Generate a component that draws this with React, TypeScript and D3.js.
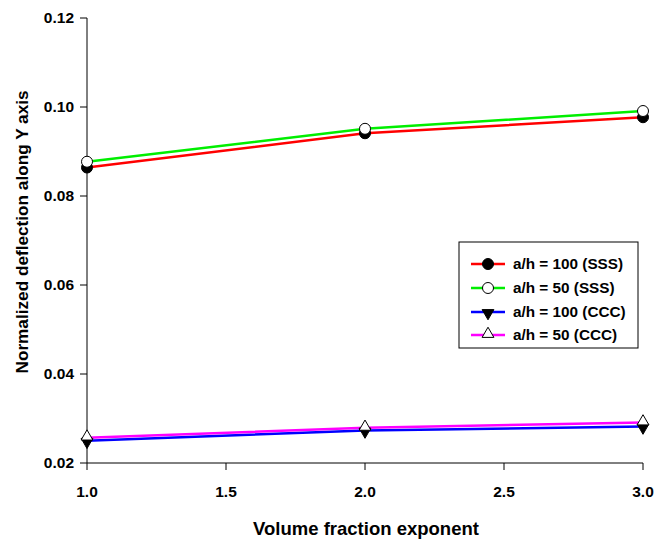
import React from "react";
import * as d3 from "d3";

const xValues = [1.0, 2.0, 3.0];
const sss100 = [0.0864, 0.0941, 0.0977];
const sss50 = [0.0877, 0.0951, 0.0991];
const ccc100 = [0.0250, 0.0273, 0.0282];
const ccc50 = [0.0257, 0.0279, 0.0291];
const xTicks = [1.0, 1.5, 2.0, 2.5, 3.0];
const yTicks = [0.02, 0.04, 0.06, 0.08, 0.10, 0.12];
const seriesNames = ["a/h = 100 (SSS)", "a/h = 50 (SSS)", "a/h = 100 (CCC)", "a/h = 50 (CCC)"];

const W = 657, H = 539;
const FONT = "'Liberation Sans', Arial, sans-serif";

export default function App() {
  const x = d3.scaleLinear().domain([1, 3]).range([87, 643]);
  const y = d3.scaleLinear().domain([0.02, 0.12]).range([463, 18]);
  const series = [
    { name: seriesNames[0], values: sss100, color: "#ff0000", marker: "filledCircle" },
    { name: seriesNames[1], values: sss50, color: "#00ee00", marker: "openCircle" },
    { name: seriesNames[2], values: ccc100, color: "#0000ff", marker: "filledTriDown" },
    { name: seriesNames[3], values: ccc50, color: "#ff00ff", marker: "openTriUp" },
  ];
  const line = d3.line<number>().x((_, i) => x(xValues[i])).y((d) => y(d));
  const triUp = d3.symbol().type(d3.symbolTriangle).size(60);
  const marker = (kind: string, cx: number, cy: number, key: string) => {
    if (kind === "filledCircle") return <circle key={key} cx={cx} cy={cy} r={5.5} fill="#000" stroke="#000" strokeWidth={1} />;
    if (kind === "openCircle") return <circle key={key} cx={cx} cy={cy} r={5.5} fill="#fff" stroke="#000" strokeWidth={1} />;
    if (kind === "filledTriDown") return <path key={key} d={triUp()!} transform={`translate(${cx},${cy + 1}) rotate(180)`} fill="#000" stroke="#000" strokeWidth={1} />;
    return <path key={key} d={triUp()!} transform={`translate(${cx},${cy - 1})`} fill="#fff" stroke="#000" strokeWidth={1} />;
  };
  const legendX = 459, legendY = 242, legendW = 179, legendH = 106;
  const legendRows = [264, 288, 312, 335];
  return (
    <svg width={W} height={H} style={{ position: "absolute", left: 0, top: 0 }} fontFamily={FONT}>
      <rect x={0} y={0} width={W} height={H} fill="#fff" />
      <line x1={87} y1={18} x2={87} y2={463} stroke="#000" strokeWidth={1} />
      <line x1={87} y1={463} x2={643} y2={463} stroke="#000" strokeWidth={1} />
      {yTicks.map((t) => (
        <g key={"y" + t}>
          <line x1={80} x2={87} y1={y(t)} y2={y(t)} stroke="#000" />
          <text x={74} y={y(t)} dy="0.35em" textAnchor="end" fontSize={15.5} fontWeight="bold">{t.toFixed(2)}</text>
        </g>
      ))}
      {xTicks.map((t) => (
        <g key={"x" + t}>
          <line x1={x(t)} x2={x(t)} y1={463} y2={470} stroke="#000" />
          <text x={x(t)} y={497} textAnchor="middle" fontSize={15.5} fontWeight="bold">{t.toFixed(1)}</text>
        </g>
      ))}
      <text x={366} y={535} textAnchor="middle" fontSize={18.5} fontWeight="bold">Volume fraction exponent</text>
      <text transform="translate(28,232) rotate(-90)" textAnchor="middle" fontSize={17.2} fontWeight="bold">Normalized deflection along Y axis</text>
      {series.map((s) => (
        <path key={"l" + s.name} d={line(s.values)!} fill="none" stroke={s.color} strokeWidth={2.5} />
      ))}
      {series.map((s) => s.values.map((v, i) => marker(s.marker, x(xValues[i]), y(v), s.name + i)))}
      <rect x={legendX} y={legendY} width={legendW} height={legendH} fill="#fff" stroke="#000" strokeWidth={1} />
      {series.map((s, i) => (
        <g key={"lg" + i}>
          <line x1={471} x2={505} y1={legendRows[i]} y2={legendRows[i]} stroke={s.color} strokeWidth={2.5} />
          {marker(s.marker, 488, legendRows[i], "lm" + i)}
          <text x={513} y={legendRows[i]} dy="0.35em" fontSize={15.3} fontWeight="bold">{s.name}</text>
        </g>
      ))}
    </svg>
  );
}
